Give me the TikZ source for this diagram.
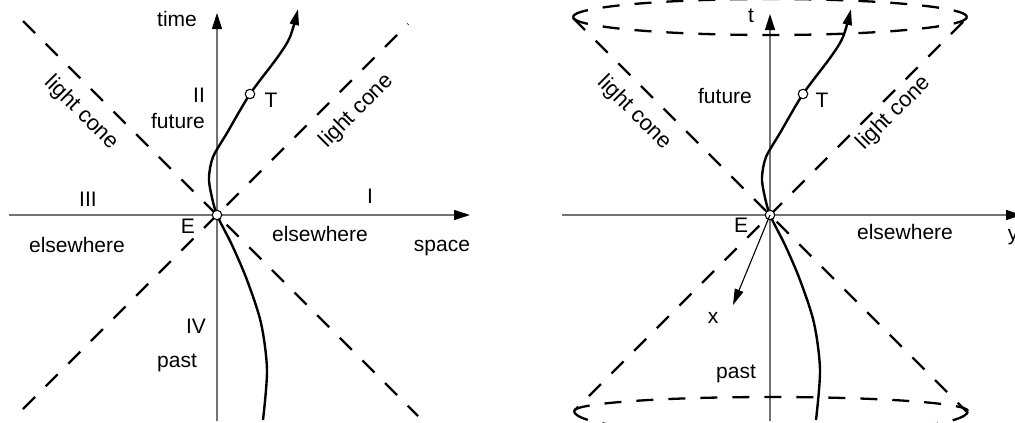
\documentclass[tikz,border=0pt]{standalone}
\usepackage{fontspec}
\setmainfont{Liberation Sans}
\usetikzlibrary{arrows.meta}
\begin{document}
\begin{tikzpicture}[x=1pt,y=-1pt,
  lbl/.style={font=\fontsize{21}{25}\selectfont, inner sep=0pt, anchor=base},
  conelbl/.style={font=\fontsize{22}{26}\selectfont, inner sep=0pt, anchor=center},
  axis/.style={line width=1.1pt, draw=black!55, -{Triangle[length=16pt,width=10pt,color=black]}},
  cone/.style={line width=2.3pt, dash pattern=on 17pt off 15pt},
  world/.style={line width=2.4pt, -{Triangle[length=16pt,width=9pt]}},
  thinarrow/.style={line width=1.1pt, -{Triangle[length=16pt,width=9pt]}},
  event/.style={circle, draw, line width=1.1pt, fill=white, minimum size=9.5pt, inner sep=0pt}]
\useasboundingbox (0,0) rectangle (1015,423);
\newcommand\worldpath{plot[smooth] coordinates {(46,205) (50,155) (44,108) (30,65) (15,30) (0,0) (-6,-22) (-8,-38) (-4,-58) (10,-82) (33,-121) (60,-157) (73,-178) (81,-206)}}

% ---------------- left diagram ----------------
\begin{scope}[shift={(217,215)}]
  \coordinate (L-xs) at (-208,0);  \coordinate (L-xe) at (253,0);
  \coordinate (L-ts) at (0,206);   \coordinate (L-te) at (0,-202);
  \coordinate (L-c1a) at (-194,-194); \coordinate (L-c1b) at (201,201);
  \coordinate (L-c2a) at (-194,194);  \coordinate (L-c2b) at (191,-191);
  \draw[axis] (L-xs) -- (L-xe);
  \draw[axis] (L-ts) -- (L-te);
  \draw[cone] (L-c1a) -- (L-c1b);
  \draw[cone] (L-c2a) -- (L-c2b);
  \draw[world] \worldpath;
  \node[event] (L-E) at (0,0) {};
  \node[event] (L-T) at (33,-121) {};
  \node[lbl] (L-time) at (-40,-189) {time};
  \node[lbl] (L-II) at (-18,-113) {II};
  \node[lbl] (L-future) at (-39,-87) {future};
  \node[lbl] (L-Tl) at (54,-108) {T};
  \node[lbl] (L-III) at (-129,-9) {III};
  \node[lbl] (L-I) at (153,-12) {I};
  \node[lbl] (L-El) at (-29,18) {E};
  \node[lbl] (L-else1) at (-140,37) {elsewhere};
  \node[lbl] (L-else2) at (103,26) {elsewhere};
  \node[lbl] (L-space) at (225,36) {space};
  \node[lbl] (L-IV) at (-21,118) {IV};
  \node[lbl] (L-past) at (-40,152) {past};
  \node[conelbl, rotate=-45] (L-lc1) at (-136,-102) {light cone};
  \node[conelbl, rotate=45] (L-lc2) at (140,-104) {light cone};
\end{scope}

% ---------------- right diagram ----------------
\begin{scope}[shift={(770,215)}]
  \coordinate (R-xs) at (-208,0);  \coordinate (R-xe) at (252,0);
  \coordinate (R-ts) at (0,206);   \coordinate (R-te) at (0,-201);
  \coordinate (R-c1a) at (-197,-197); \coordinate (R-c1b) at (198,198);
  \coordinate (R-c2a) at (193,-193);  \coordinate (R-c2b) at (-195,195);
  \coordinate (R-xa) at (-37,90);
  \draw[axis] (R-xs) -- (R-xe);
  \draw[axis] (R-ts) -- (R-te);
  \draw[cone] (R-c1a) -- (R-c1b);
  \draw[cone] (R-c2a) -- (R-c2b);
  % top ellipse
  \draw[cone] (-197,-198) arc[start angle=180, end angle=360, x radius=197, y radius=18];
  \draw[cone] (-197,-198) arc[start angle=180, end angle=0, x radius=197, y radius=18];
  % bottom ellipse
  \draw[cone] (-196,196) arc[start angle=180, end angle=360, x radius=197, y radius=14];
  \draw[cone] (-196,196) arc[start angle=180, end angle=0, x radius=197, y radius=24];
  \draw[world] \worldpath;
  \node[event] (R-E) at (0,0) {};
  \node[event] (R-T) at (33,-121) {};
  \draw[thinarrow] (R-E.center) -- (R-xa);
  \node[lbl] (R-t) at (-19,-193) {t};
  \node[lbl] (R-future) at (-45,-112) {future};
  \node[lbl] (R-Tl) at (52,-108) {T};
  \node[lbl] (R-El) at (-29,17) {E};
  \node[lbl] (R-else) at (135,24) {elsewhere};
  \node[lbl] (R-y) at (243,25) {y};
  \node[lbl] (R-x) at (-57,108) {x};
  \node[lbl] (R-past) at (-34,163) {past};
  \node[conelbl, rotate=-45] (R-lc1) at (-136,-102) {light cone};
  \node[conelbl, rotate=45] (R-lc2) at (124,-102) {light cone};
\end{scope}
\end{tikzpicture}
\end{document}
